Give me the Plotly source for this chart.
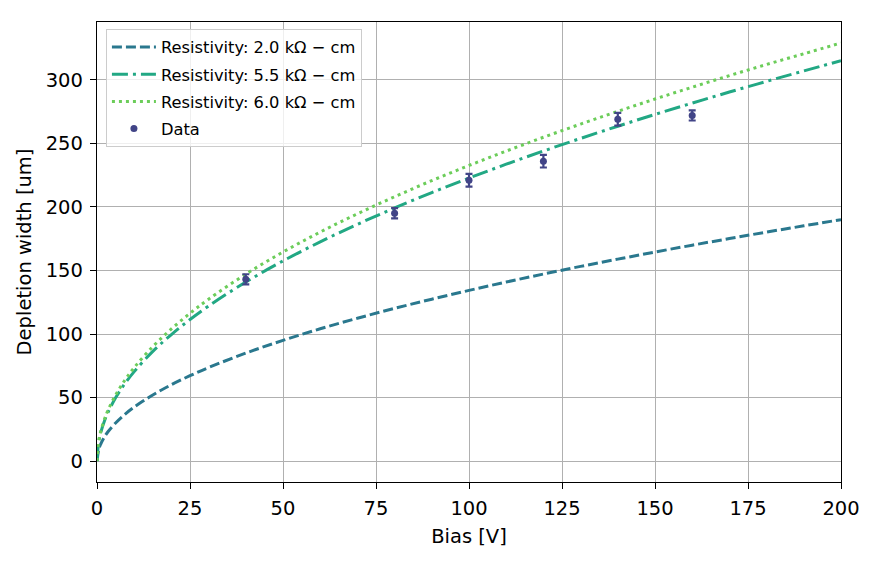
import plotly.graph_objects as go

bias = [0, 0.5, 1, 2, 3, 5, 7.5, 10, 15, 20, 25, 30, 40, 50, 60, 70, 80, 90,
        100, 110, 120, 130, 140, 150, 160, 170, 180, 190, 200]
w_2_0 = [0, 9.5, 13.4, 19.0, 23.3, 30.0, 36.8, 42.5, 52.0, 60.1, 67.2, 73.6, 85.0,
         95.0, 104.1, 112.4, 120.2, 127.4, 134.3, 140.9, 147.2, 153.2, 158.9, 164.5,
         169.9, 175.1, 180.2, 185.1, 190.0]
w_5_5 = [0, 15.7, 22.3, 31.5, 38.6, 49.8, 61.0, 70.4, 86.3, 99.6, 111.4, 122.0, 140.9,
         157.5, 172.5, 186.3, 199.2, 211.3, 222.7, 233.6, 244.0, 253.9, 263.5, 272.8,
         281.7, 290.4, 298.8, 307.0, 315.0]
w_6_0 = [0, 16.4, 23.3, 32.9, 40.3, 52.0, 63.7, 73.6, 90.1, 104.0, 116.3, 127.4, 147.1,
         164.5, 180.2, 194.6, 208.0, 220.7, 232.6, 243.9, 254.8, 265.2, 275.2, 284.9,
         294.2, 303.3, 312.1, 320.5, 329.0]

data_bias = [40, 80, 100, 120, 140, 160]
data_width = [143, 195, 221, 236, 269, 272]
data_err = [4, 4, 5, 5, 5, 4]

fig = go.Figure()
fig.add_trace(go.Scatter(x=bias, y=w_2_0, mode="lines", line_shape="spline",
                         name="Resistivity: 2.0 kΩ − cm", legendgroup="a",
                         line=dict(color="#2a788e", width=3, dash="10px,4px")))
fig.add_trace(go.Scatter(x=bias, y=w_5_5, mode="lines", line_shape="spline",
                         name="Resistivity: 5.5 kΩ − cm", legendgroup="b",
                         line=dict(color="#22a884", width=3, dash="16px,5px,3px,5px")))
fig.add_trace(go.Scatter(x=bias, y=w_6_0, mode="lines", line_shape="spline",
                         name="Resistivity: 6.0 kΩ − cm", legendgroup="c",
                         line=dict(color="#6ccd5a", width=3, dash="3px,4px")))
fig.add_trace(go.Scatter(x=data_bias, y=data_width, mode="markers", name="Data",
                         legendgroup="d",
                         marker=dict(color="#414487", size=7, symbol="circle"),
                         error_y=dict(type="data", array=data_err, color="#414487",
                                      thickness=2.2, width=3.5)))

axis_common = dict(showgrid=True, gridcolor="#b0b0b0", gridwidth=1,
                   showline=True, linecolor="black", linewidth=1.3, mirror=True,
                   ticks="outside", ticklen=6, tickwidth=1.2, tickcolor="black",
                   zeroline=False, tickfont=dict(size=19.5, color="black"))

fig.update_layout(
    width=877, height=561,
    margin=dict(l=97, r=36, t=22, b=79),
    paper_bgcolor="white", plot_bgcolor="white",
    font=dict(family="DejaVu Sans", color="black"),
    xaxis=dict(range=[0, 200], tickvals=[0, 25, 50, 75, 100, 125, 150, 175, 200],
               title=dict(text="Bias [V]", font=dict(size=19.5), standoff=10),
               ticklabelstandoff=2, **axis_common),
    yaxis=dict(range=[-16.45, 345.5], tickvals=[0, 50, 100, 150, 200, 250, 300],
               title=dict(text="Depletion width [um]", font=dict(size=19.5), standoff=8),
               ticklabelstandoff=3, **axis_common),
    legend=dict(x=0.012, y=0.985, xanchor="left", yanchor="top",
                bgcolor="rgba(255,255,255,0.8)", bordercolor="#cccccc", borderwidth=1,
                font=dict(size=16.3), tracegroupgap=3, itemwidth=44),
    showlegend=True,
)

fig.write_html("out.html")
